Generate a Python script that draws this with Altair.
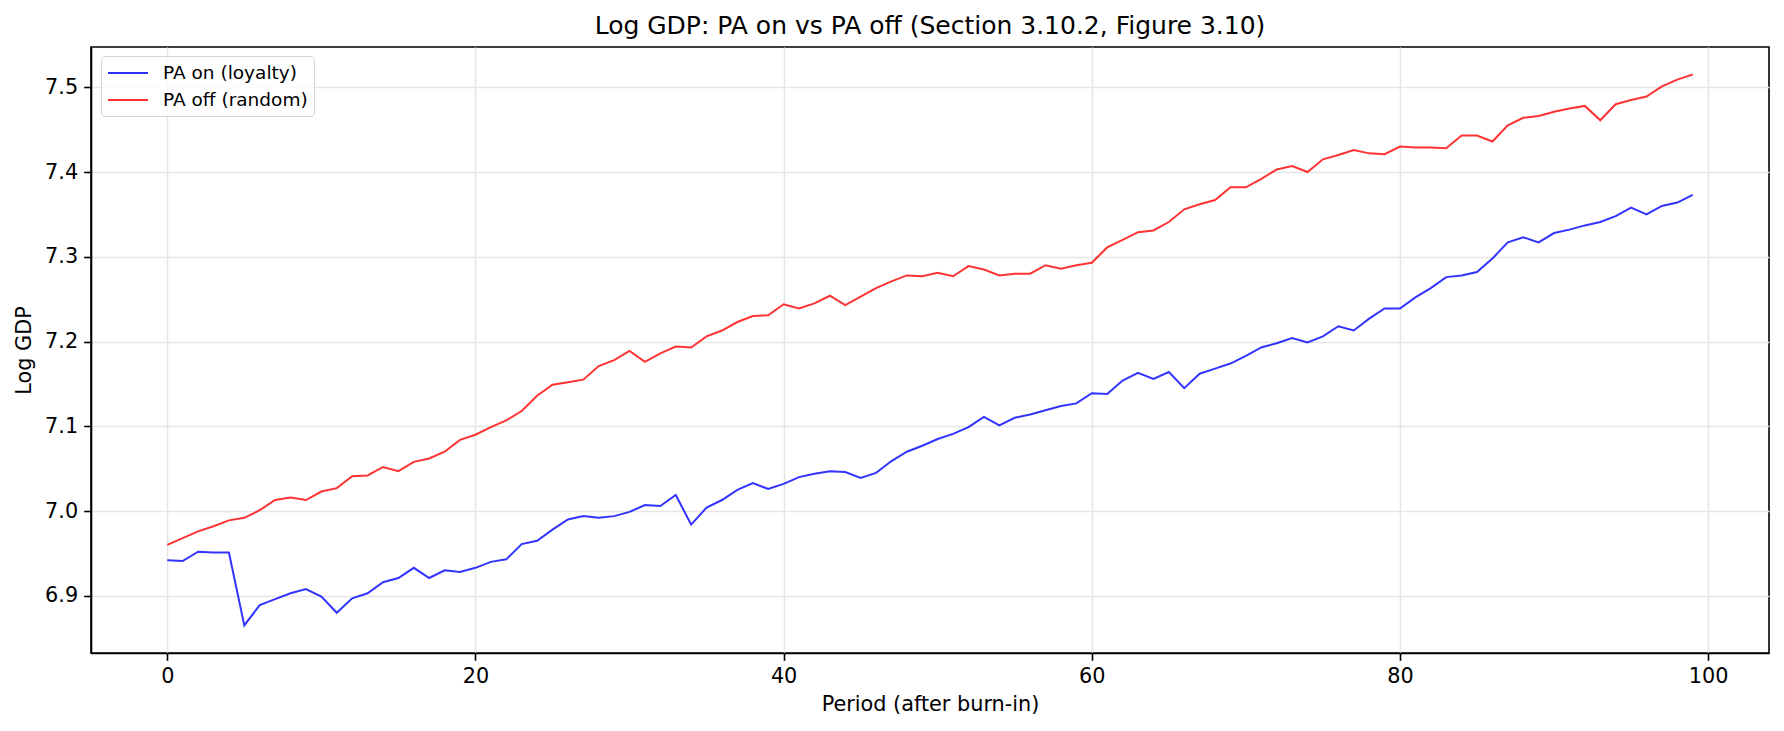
import altair as alt
import pandas as pd

periods = list(range(100))

pa_on = [
    6.942, 6.941, 6.952, 6.951, 6.951, 6.865, 6.889, 6.896, 6.903, 6.908,
    6.899, 6.880, 6.897, 6.903, 6.916, 6.921, 6.933, 6.921, 6.930, 6.928,
    6.933, 6.940, 6.943, 6.961, 6.965, 6.978, 6.990, 6.994, 6.992, 6.994,
    6.999, 7.007, 7.006, 7.019, 6.984, 7.004, 7.013, 7.025, 7.033, 7.026,
    7.032, 7.040, 7.044, 7.047, 7.046, 7.039, 7.045, 7.059, 7.070, 7.077,
    7.085, 7.091, 7.099, 7.111, 7.101, 7.110, 7.114, 7.119, 7.124, 7.127,
    7.139, 7.138, 7.154, 7.163, 7.156, 7.164, 7.145, 7.162, 7.168, 7.174,
    7.183, 7.193, 7.198, 7.204, 7.199, 7.206, 7.218, 7.213, 7.227, 7.239,
    7.239, 7.252, 7.263, 7.276, 7.278, 7.282, 7.298, 7.317, 7.323, 7.317,
    7.328, 7.332, 7.337, 7.341, 7.348, 7.358, 7.350, 7.360, 7.364, 7.373,
]

pa_off = [
    6.960, 6.968, 6.976, 6.982, 6.989, 6.992, 7.001, 7.013, 7.016, 7.013,
    7.023, 7.027, 7.041, 7.042, 7.052, 7.047, 7.058, 7.062, 7.070, 7.084,
    7.090, 7.099, 7.107, 7.118, 7.136, 7.149, 7.152, 7.155, 7.171, 7.178,
    7.189, 7.176, 7.186, 7.194, 7.193, 7.206, 7.213, 7.223, 7.230, 7.231,
    7.244, 7.239, 7.245, 7.254, 7.243, 7.253, 7.263, 7.271, 7.278, 7.277,
    7.281, 7.277, 7.289, 7.285, 7.278, 7.280, 7.280, 7.290, 7.286, 7.290,
    7.293, 7.311, 7.320, 7.329, 7.331, 7.341, 7.356, 7.362, 7.367, 7.382,
    7.382, 7.392, 7.403, 7.407, 7.400, 7.415, 7.420, 7.426, 7.422, 7.421,
    7.430, 7.429, 7.429, 7.428, 7.443, 7.443, 7.436, 7.455, 7.464, 7.466,
    7.471, 7.475, 7.478, 7.461, 7.480, 7.485, 7.489, 7.501, 7.509, 7.515,
]

series_names = ["PA on (loyalty)", "PA off (random)"]
series_colors = ["blue", "red"]
x_ticks = [0, 20, 40, 60, 80, 100]
y_ticks = [6.9, 7.0, 7.1, 7.2, 7.3, 7.4, 7.5]

df = pd.DataFrame({
    "period": periods + periods,
    "value": pa_on + pa_off,
    "series": [series_names[0]] * len(pa_on) + [series_names[1]] * len(pa_off),
})

FONT = "DejaVu Sans"

chart = alt.Chart(df).mark_line(strokeWidth=2, opacity=0.8).encode(
    x=alt.X("period:Q",
            scale=alt.Scale(domain=[-4.95, 103.95], nice=False, zero=False),
            axis=alt.Axis(values=x_ticks, format="d", title="Period (after burn-in)",
                          titlePadding=8)),
    y=alt.Y("value:Q",
            scale=alt.Scale(domain=[6.8325, 7.5475], nice=False, zero=False),
            axis=alt.Axis(values=y_ticks, format=".1f", title="Log GDP",
                          titlePadding=10)),
    color=alt.Color("series:N",
                    scale=alt.Scale(domain=series_names, range=series_colors),
                    legend=alt.Legend(title=None, orient="none", legendX=10, legendY=9,
                                      symbolType="M-2,0H2", symbolSize=400,
                                      symbolOffset=10,
                                      symbolStrokeWidth=2, symbolOpacity=0.8,
                                      labelFont=FONT, labelFontSize=18.5,
                                      labelColor="black", labelOffset=24,
                                      rowPadding=6, padding=6,
                                      fillColor="rgba(255,255,255,0.8)",
                                      strokeColor="#d4d4d4", cornerRadius=4)),
).properties(
    width=1678,
    height=606,
    autosize=alt.AutoSizeParams(type="none"),
    padding={"left": 83, "top": 39, "right": 7, "bottom": 70},
    background="white",
    title=alt.TitleParams(
        text="Log GDP: PA on vs PA off (Section 3.10.2, Figure 3.10)",
        font=FONT, fontSize=25, fontWeight="normal", color="black",
        anchor="middle", offset=8,
    ),
).configure_view(
    stroke="black", strokeWidth=1.6
).configure_axis(
    domainColor="black", domainWidth=1.6,
    tickColor="black", tickWidth=1.6, tickSize=7.3,
    labelFont=FONT, labelFontSize=20.8, labelColor="black", labelPadding=6,
    titleFont=FONT, titleFontSize=20.8, titleFontWeight="normal", titleColor="black",
    gridColor="#e6e6e6", gridWidth=1.6,
)

chart.save("out.html", embed_options={"renderer": "svg", "actions": False})
